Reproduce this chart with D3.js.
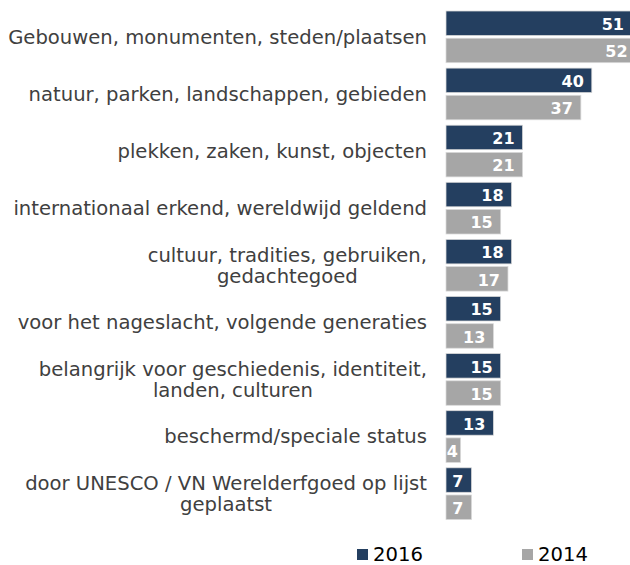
<!DOCTYPE html>
<html>
<head>
<meta charset="utf-8">
<script src="https://cdn.jsdelivr.net/npm/d3@7"></script>
<style>
  body { margin: 0; background: #fff; }
  svg { display: block; }
</style>
</head>
<body>
<svg id="chart"></svg>
<script>
// categories (multi-line labels split with "\n")
const categories = [
  "Gebouwen, monumenten, steden/plaatsen",
  "natuur, parken, landschappen, gebieden",
  "plekken, zaken, kunst, objecten",
  "internationaal erkend, wereldwijd geldend",
  "cultuur, tradities, gebruiken,\ngedachtegoed",
  "voor het nageslacht, volgende generaties",
  "belangrijk voor geschiedenis, identiteit,\nlanden, culturen",
  "beschermd/speciale status",
  "door UNESCO / VN Werelderfgoed op lijst\ngeplaatst"
];
const years = ["2016", "2014"];
const values2016 = [51, 40, 21, 18, 18, 15, 15, 13, 7];
const values2014 = [52, 37, 21, 15, 17, 13, 15, 4, 7];

const width = 630, height = 565;
const colors = { "2016": "#243f60", "2014": "#a6a6a6" };
const textColor = "#404040";
const labelRight = 427;

const rows = categories.map((c, i) => ({
  cat: c,
  vals: [
    { year: "2016", v: values2016[i] },
    { year: "2014", v: values2014[i] }
  ]
}));

const svg = d3.select("#chart")
  .attr("width", width)
  .attr("height", height)
  .attr("viewBox", [0, 0, width, height]);

const x = d3.scaleLinear([0, 51], [446, 446 + 51 * 3.645]);
const y = d3.scaleBand(categories, [8.3, 522.2]).paddingInner(0.095).paddingOuter(0.0475);
const ySub = d3.scaleBand(years, [0, y.bandwidth()]).paddingInner(0.1);

const group = svg.append("g")
  .selectAll("g")
  .data(rows)
  .join("g")
  .attr("transform", d => `translate(0,${y(d.cat)})`);

group.selectAll("rect")
  .data(d => d.vals)
  .join("rect")
  .attr("x", x(0))
  .attr("y", d => ySub(d.year))
  .attr("width", d => x(d.v) - x(0))
  .attr("height", ySub.bandwidth())
  .attr("fill", d => colors[d.year])
  .attr("stroke", "#d9d9d9")
  .attr("stroke-width", 0.75);

// value labels inside bar ends
group.selectAll("text.val")
  .data(d => d.vals)
  .join("text")
  .attr("class", "val")
  .attr("x", d => Math.max(x(d.v) - 8, x(0) + 12))
  .attr("y", d => ySub(d.year) + ySub.bandwidth() / 2)
  .attr("dy", "0.42em")
  .attr("text-anchor", "end")
  .attr("fill", "#fff")
  .style("font", "bold 16px 'DejaVu Sans', Verdana, sans-serif")
  .text(d => d.v);

// category labels: block right-aligned, lines centred on each other
const lineH = 21;
group.each(function(d) {
  const lines = d.cat.split("\n");
  const g = d3.select(this);
  const t = g.append("text")
    .attr("fill", textColor)
    .style("font", "19.6px 'DejaVu Sans', Verdana, sans-serif");
  const spans = t.selectAll("tspan")
    .data(lines)
    .join("tspan")
    .text(l => l);
  const widths = spans.nodes().map(n => n.getComputedTextLength());
  const w = d3.max(widths);
  const cy = y.bandwidth() / 2 - (lines.length - 1) * lineH / 2;
  spans
    .attr("x", labelRight - w / 2)
    .attr("text-anchor", "middle")
    .attr("y", (l, i) => cy + i * lineH)
    .attr("dy", "0.35em");
});

// legend
const legend = svg.append("g")
  .selectAll("g")
  .data(years)
  .join("g")
  .attr("transform", (d, i) => `translate(${[357, 522][i]},549)`);
legend.append("rect")
  .attr("width", 11)
  .attr("height", 11)
  .attr("fill", d => colors[d]);
legend.append("text")
  .attr("x", 16)
  .attr("y", 11.5)
  .attr("fill", "#000")
  .style("font", "19.6px 'DejaVu Sans', Verdana, sans-serif")
  .text(d => d);
</script>
</body>
</html>
